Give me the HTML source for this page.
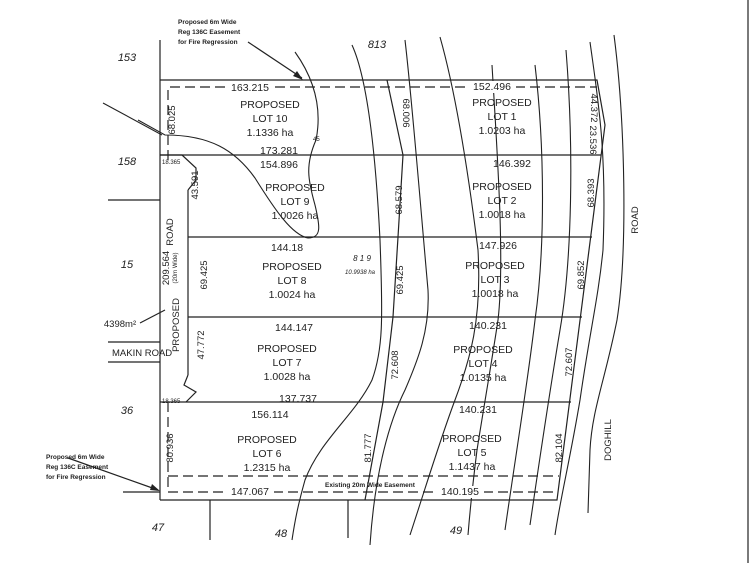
<!DOCTYPE html>
<html><head><meta charset="utf-8"><style>
html,body{margin:0;padding:0;background:#fff;}
svg{display:block;}
text{font-family:"Liberation Sans",sans-serif;fill:#222;}
.t{font-size:10.5px;text-anchor:middle;}
.s{font-size:9.5px;text-anchor:middle;}
.i{font-size:11px;font-style:italic;text-anchor:middle;}
.n{font-size:6.5px;font-weight:bold;}
</style></head><body>
<svg width="750" height="563" viewBox="0 0 750 563" xmlns="http://www.w3.org/2000/svg">
<rect width="750" height="563" fill="#fff"/>
<g stroke="#222" stroke-width="1.2" fill="none">
<!-- boundaries -->
<line x1="160" y1="40" x2="160" y2="500"/>
<polyline points="160,80 597,80 605,125 557,500 160,500"/>
<line x1="160" y1="155" x2="601" y2="155"/>
<line x1="188" y1="237" x2="592" y2="237"/>
<line x1="188" y1="317" x2="582" y2="317"/>
<line x1="160" y1="402" x2="571" y2="402"/>
<line x1="188" y1="190" x2="188" y2="375"/>
<polyline points="160,155 182,155 196,168 196,180 188,190"/>
<polyline points="188,375 184,385 196,392 186,402"/>
<polyline points="387,80 403,155 398,237 393,317 383,402 365,500"/>
<!-- stubs -->
<line x1="108" y1="200" x2="160" y2="200"/>
<line x1="108" y1="342" x2="160" y2="342"/>
<line x1="108" y1="362" x2="160" y2="362"/>
<line x1="123" y1="492" x2="160" y2="492"/>
<line x1="210" y1="500" x2="210" y2="540"/>
<line x1="348" y1="500" x2="348" y2="538"/>
<line x1="748" y1="0" x2="748" y2="563"/>
<!-- dashed easements -->
<g stroke-dasharray="10,5">
<polyline points="168,160 168,87 597,87"/>
<polyline points="168,402 168,492 557,492"/>
<line x1="168" y1="476" x2="559" y2="476"/>
</g>
<!-- contours -->
<g stroke-width="1.1">
<polyline points="103,103 162,135"/>
<path d="M138,120 L165,135 C210,135 235,150 255,178 C275,210 292,235 308,238 C322,238 320,226 315,205 C308,180 305,165 316,140 C322,110 315,80 295,52"/>
<path d="M352,45 C368,80 376,160 380,240 C383,320 383,350 372,380 C355,415 320,440 305,480 C298,505 295,520 292,540"/>
<path d="M405,40 C412,100 420,200 428,290 C430,330 418,360 405,390 C390,420 375,470 370,545"/>
<path d="M440,37 C455,90 468,170 478,250 C482,320 470,360 455,400 C440,440 428,480 410,535"/>
<path d="M492,65 C497,150 505,260 498,320 C492,360 485,400 477,450 C472,490 470,510 468,535"/>
<path d="M535,65 C545,150 545,250 535,320 C528,380 515,460 505,530"/>
<path d="M566,50 C574,150 572,260 560,330 C550,390 538,470 530,525"/>
<path d="M590,42 C598,100 607,150 603,250 C598,300 590,330 580,400 C570,460 560,500 555,535"/>
<path d="M614,35 C625,120 628,250 617,320 C605,380 592,410 590,450 L588,513"/>
</g>
<!-- arrows -->
<line x1="248" y1="42" x2="302" y2="78"/>
<line x1="68" y1="458" x2="158" y2="490"/>
<line x1="140" y1="323" x2="165" y2="310"/>
</g>
<polygon points="303,80 293,76 297,71" fill="#222"/>
<polygon points="160,491 150,490 152,484" fill="#222"/>
<!-- white label backgrounds on dashed line -->
<rect x="226" y="81" width="48" height="12" fill="#fff"/>
<rect x="468" y="81" width="48" height="12" fill="#fff"/>
<rect x="226" y="486" width="48" height="12" fill="#fff"/>
<rect x="436" y="486" width="48" height="12" fill="#fff"/>
<g>
<text class="n" x="178" y="24">Proposed 6m Wide</text>
<text class="n" x="178" y="34">Reg 136C Easement</text>
<text class="n" x="178" y="44">for Fire Regression</text>
<text class="n" x="46" y="459">Proposed 6m Wide</text>
<text class="n" x="46" y="469">Reg 136C Easement</text>
<text class="n" x="46" y="479">for Fire Regression</text>
<text class="i" x="127" y="61">153</text>
<text class="i" x="377" y="48">813</text>
<text class="i" x="127" y="165">158</text>
<text class="i" x="127" y="268">15</text>
<text class="i" x="127" y="414">36</text>
<text class="i" x="158" y="531">47</text>
<text class="i" x="281" y="537">48</text>
<text class="i" x="456" y="534">49</text>
<text class="t" x="250" y="91">163.215</text>
<text class="t" x="492" y="90">152.496</text>
<text class="t" x="270" y="108">PROPOSED</text><text class="t" x="270" y="122">LOT 10</text><text class="t" x="270" y="136">1.1336 ha</text>
<text class="t" x="279" y="154">173.281</text><text class="t" x="279" y="168">154.896</text>
<text class="t" x="295" y="191">PROPOSED</text><text class="t" x="295" y="205">LOT 9</text><text class="t" x="295" y="219">1.0026 ha</text>
<text class="t" x="287" y="251">144.18</text>
<text x="362" y="261" style="font-size:8px;font-style:italic;text-anchor:middle">8 1 9</text>
<text x="360" y="274" style="font-size:6px;font-style:italic;text-anchor:middle">10.9938 ha</text>
<text class="t" x="292" y="270">PROPOSED</text><text class="t" x="292" y="284">LOT 8</text><text class="t" x="292" y="298">1.0024 ha</text>
<text class="t" x="294" y="331">144.147</text>
<text class="t" x="287" y="352">PROPOSED</text><text class="t" x="287" y="366">LOT 7</text><text class="t" x="287" y="380">1.0028 ha</text>
<text class="t" x="298" y="402">137.737</text>
<text class="t" x="270" y="418">156.114</text>
<text class="t" x="267" y="443">PROPOSED</text><text class="t" x="267" y="457">LOT 6</text><text class="t" x="267" y="471">1.2315 ha</text>
<text class="t" x="250" y="495">147.067</text>
<text x="370" y="487" style="font-size:6.5px;font-weight:bold;text-anchor:middle">Existing 20m Wide Easement</text>
<text class="t" x="460" y="495">140.195</text>
<text class="t" x="502" y="106">PROPOSED</text><text class="t" x="502" y="120">LOT 1</text><text class="t" x="502" y="134">1.0203 ha</text>
<text class="t" x="512" y="167">146.392</text>
<text class="t" x="502" y="190">PROPOSED</text><text class="t" x="502" y="204">LOT 2</text><text class="t" x="502" y="218">1.0018 ha</text>
<text class="t" x="498" y="249">147.926</text>
<text class="t" x="495" y="269">PROPOSED</text><text class="t" x="495" y="283">LOT 3</text><text class="t" x="495" y="297">1.0018 ha</text>
<text class="t" x="488" y="329">140.231</text>
<text class="t" x="483" y="353">PROPOSED</text><text class="t" x="483" y="367">LOT 4</text><text class="t" x="483" y="381">1.0135 ha</text>
<text class="t" x="478" y="413">140.231</text>
<text class="t" x="472" y="442">PROPOSED</text><text class="t" x="472" y="456">LOT 5</text><text class="t" x="472" y="470">1.1437 ha</text>
<text class="s" x="0" y="0" transform="translate(175,120) rotate(-90)">68.025</text>
<text class="s" x="0" y="0" transform="translate(198,185) rotate(-90)">43.591</text>
<text class="s" x="0" y="0" transform="translate(173,232) rotate(-90)">ROAD</text>
<text class="s" x="0" y="0" transform="translate(169,268) rotate(-90)">209.564</text>
<text x="0" y="0" style="font-size:6px;text-anchor:middle" transform="translate(177,268) rotate(-90)">(20m Wide)</text>
<text class="s" x="0" y="0" transform="translate(179,325) rotate(-90)">PROPOSED</text>
<text class="s" x="0" y="0" transform="translate(207,275) rotate(-90)">69.425</text>
<text class="s" x="0" y="0" transform="translate(204,345) rotate(-90)">47.772</text>
<text class="s" x="0" y="0" transform="translate(173,448) rotate(-90)">80.936</text>
<text class="s" x="0" y="0" transform="translate(403,113) rotate(90)">68.006</text>
<text class="s" x="0" y="0" transform="translate(402,200) rotate(-90)">68.579</text>
<text class="s" x="0" y="0" transform="translate(403,280) rotate(-90)">69.425</text>
<text class="s" x="0" y="0" transform="translate(398,365) rotate(-90)">72.608</text>
<text class="s" x="0" y="0" transform="translate(371,448) rotate(-90)">81.777</text>
<text class="s" x="0" y="0" transform="translate(591,108) rotate(90)">44.372</text>
<text class="s" x="0" y="0" transform="translate(590,140) rotate(90)">23.536</text>
<text class="s" x="0" y="0" transform="translate(594,193) rotate(-90)">68.393</text>
<text class="s" x="0" y="0" transform="translate(584,275) rotate(-90)">69.852</text>
<text class="s" x="0" y="0" transform="translate(572,362) rotate(-90)">72.607</text>
<text class="s" x="0" y="0" transform="translate(562,448) rotate(-90)">82.104</text>
<text class="s" x="0" y="0" transform="translate(638,220) rotate(-90)">ROAD</text>
<text class="s" x="0" y="0" transform="translate(611,440) rotate(-90)">DOGHILL</text>
<text class="s" x="120" y="327">4398m²</text>
<text class="s" x="112" y="356" style="text-anchor:start">MAKIN ROAD</text>
<text x="162" y="164" style="font-size:6px">18.365</text>
<text x="162" y="403" style="font-size:6px">18.365</text>
<text x="313" y="141" style="font-size:6px">45</text>
</g>
</svg>
</body></html>
